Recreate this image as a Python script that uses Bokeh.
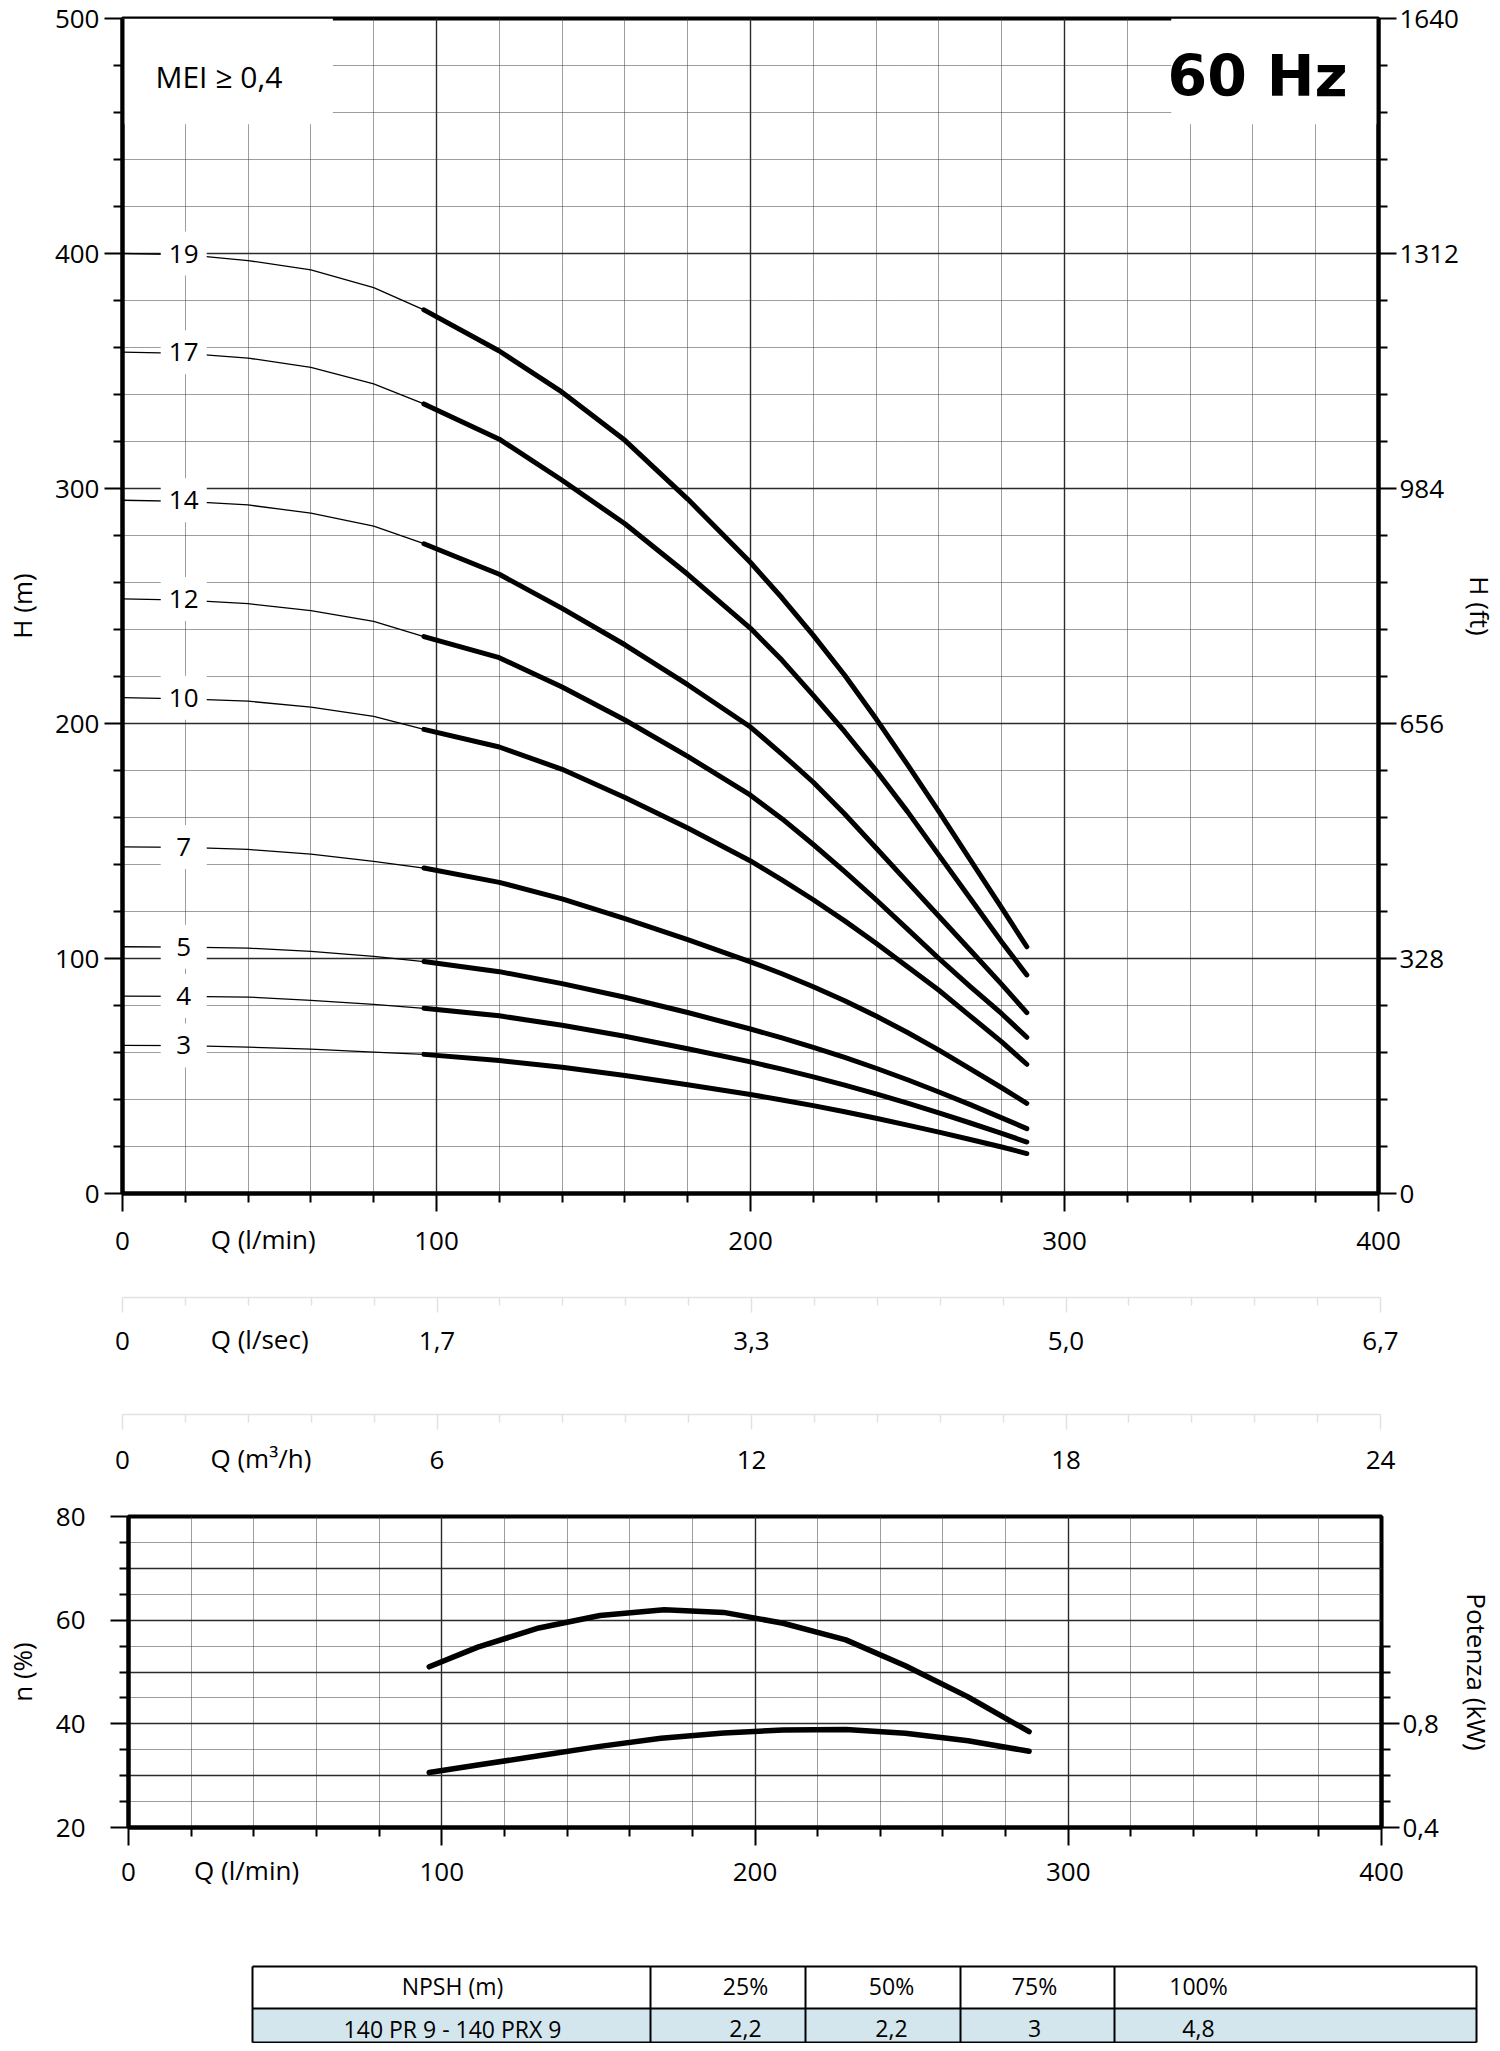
import math
from bokeh.plotting import figure
from bokeh.models import Range1d, LinearAxis, FixedTicker
from bokeh.layouts import column
from bokeh.embed import file_html
from bokeh.resources import INLINE
from bokeh.core.properties import value

FONT = "Open Sans"

# ---------------- data ----------------
Q_PTS = [0, 20, 40, 60, 80, 96, 120, 140, 160, 180, 200, 210, 220, 230, 240, 250, 260, 270, 280, 288]
N_THIN = 6  # first points drawn thin, thick curve starts at index 5

H_19 = [400, 399.5, 397, 393, 385.5, 376, 358.5, 341, 320.5, 295.5, 268.5, 253.5, 237.5, 220.5, 202, 182.5, 162.5, 142, 121.5, 105]
H_17 = [358, 357.5, 355.5, 351.5, 344.5, 336, 321, 303.5, 285, 263.5, 240.5, 227, 212, 196.5, 180, 162.5, 144, 125.5, 107, 93]
H_14 = [295, 294.5, 293, 289.5, 284, 276.5, 263.5, 249, 233.5, 216.5, 198.5, 187, 175, 161.5, 147, 132.5, 118, 103.5, 89, 77]
H_12 = [253, 252.5, 251, 248, 243.5, 237, 228, 215.5, 201.5, 186, 169.5, 159.5, 148.5, 137, 125, 112.5, 100, 88, 76.5, 66.5]
H_10 = [211, 210.5, 209.5, 207, 203, 197.5, 190, 180.5, 168.5, 155.5, 141.5, 133.5, 125, 116, 106.5, 96.5, 86.5, 75.5, 64.5, 55]
H_7 = [147.5, 147.3, 146.4, 144.4, 141.3, 138.5, 132.4, 125.4, 117, 108, 98.6, 93.5, 88, 82, 75.5, 68.5, 61, 53, 45, 38.4]
H_5 = [105, 104.8, 104.4, 103, 100.9, 98.7, 94.4, 89.3, 83.5, 77, 70, 66.2, 62.2, 57.9, 53.3, 48.4, 43.2, 37.8, 32.2, 27.6]
H_4 = [84, 83.9, 83.6, 82.2, 80.5, 78.8, 75.6, 71.6, 66.9, 61.6, 56, 52.9, 49.6, 46.1, 42.4, 38.5, 34.3, 30, 25.6, 21.9]
H_3 = [63, 62.9, 62.3, 61.4, 60.2, 59.2, 56.6, 53.7, 50.2, 46.3, 42.1, 39.8, 37.4, 34.8, 32, 29.1, 26.1, 23, 19.8, 17]

STAGES = [19, 17, 14, 12, 10, 7, 5, 4, 3]
CURVES = [H_19, H_17, H_14, H_12, H_10, H_7, H_5, H_4, H_3]
LABEL_Q = 19.5

Q_TICKS = [0, 100, 200, 300, 400]
Q_LABELS = ["0", "100", "200", "300", "400"]
H_TICKS = [0, 100, 200, 300, 400, 500]
FT_TICKS = [0, 328, 656, 984, 1312, 1640]
LSEC_LABELS = ["0", "1,7", "3,3", "5,0", "6,7"]
M3H_LABELS = ["0", "6", "12", "18", "24"]

Q_EFF = [96, 111.5, 131, 150.5, 171, 190, 209, 229, 248, 268, 287.5]
EFF = [51.0, 54.8, 58.5, 60.9, 62.0, 61.5, 59.4, 56.2, 51.2, 45.2, 38.5]
Q_POW = [96, 111.5, 131, 150.5, 170, 190, 209, 229, 248, 268, 287.5]
POW_KW = [0.612, 0.641, 0.677, 0.713, 0.744, 0.765, 0.776, 0.778, 0.764, 0.735, 0.694]

ETA_TICKS = [20, 40, 60, 80]
KW_TICKS = [0.4, 0.8]
KW_LABELS = ["0,4", "0,8"]

NPSH_HEAD = ["NPSH (m)", "25%", "50%", "75%", "100%"]
NPSH_ROW = ["140 PR 9 - 140 PRX 9", "2,2", "2,2", "3", "4,8"]

# ---------------- helpers ----------------
W = 1500
GRID_SOLID = "#2a2a2a"
GRID_DOT = "#3a3a3a"
q_minor = [v for v in range(0, 401, 20) if v % 100]
TITLE_SHIFT = -32  # pulls the inline axis title up onto the tick-label row


def no_align(p):
    try:
        p.frame_align = False
    except Exception:
        pass


def style_axis(ax, standoff=5, color="black", width=4, major_out=18, minor_out=9, tick_w=2):
    ax.axis_line_width = width
    ax.axis_line_color = color
    ax.major_tick_in = 0
    ax.major_tick_out = major_out
    ax.minor_tick_in = 0
    ax.minor_tick_out = minor_out
    ax.major_tick_line_width = tick_w
    ax.minor_tick_line_width = tick_w
    ax.major_tick_line_color = color
    ax.minor_tick_line_color = color
    ax.major_label_text_font = FONT
    ax.major_label_text_font_size = "26px"
    ax.major_label_text_color = "black"
    ax.major_label_standoff = standoff


def axis_title(ax, text, standoff):
    ax.axis_label = text
    ax.axis_label_text_font = FONT
    ax.axis_label_text_font_size = "26px"
    ax.axis_label_text_font_style = "normal"
    ax.axis_label_text_color = "black"
    ax.axis_label_standoff = standoff


def inline_title(p, q, text):
    ax = LinearAxis(ticker=FixedTicker(ticks=[q]))
    ax.axis_line_color = None
    ax.major_tick_line_color = None
    ax.minor_tick_line_color = None
    ax.major_tick_in = 0
    ax.major_tick_out = 0
    ax.minor_tick_in = 0
    ax.minor_tick_out = 0
    ax.major_label_text_font = FONT
    ax.major_label_text_font_size = "26px"
    ax.major_label_text_color = "black"
    ax.major_label_standoff = TITLE_SHIFT
    ax.major_label_overrides = {q: text}
    p.add_layout(ax, "below")
    return ax


def style_grid(g, ticker):
    g.ticker = ticker
    g.grid_line_color = GRID_SOLID
    g.grid_line_width = 1.4
    g.minor_grid_line_color = GRID_DOT
    g.minor_grid_line_width = 1
    g.minor_grid_line_dash = "1 1"


# ---------------- top chart ----------------
p1 = figure(width=W, height=1270, x_range=Range1d(0, 400), y_range=Range1d(0, 500),
            output_backend="svg", toolbar_location=None,
            min_border_left=122, min_border_right=120, min_border_top=18, min_border_bottom=77)
no_align(p1)
p1.outline_line_color = "black"
p1.outline_line_width = 4

xt1 = FixedTicker(ticks=Q_TICKS, minor_ticks=q_minor)
yt1 = FixedTicker(ticks=H_TICKS, minor_ticks=[v for v in range(0, 501, 20) if v % 100])
p1.xaxis.ticker = xt1
p1.yaxis.ticker = yt1
style_axis(p1.xaxis[0], standoff=20)
p1.xaxis[0].major_label_overrides = dict(zip(Q_TICKS, Q_LABELS))
style_axis(p1.yaxis[0], standoff=5)
axis_title(p1.yaxis[0], "H (m)", 12)
style_grid(p1.xgrid[0], xt1)
style_grid(p1.ygrid[0], yt1)
inline_title(p1, 44.8, "Q (l/min)")

p1.extra_y_ranges = {"ft": Range1d(0, 1640)}
ft_axis = LinearAxis(y_range_name="ft",
                     ticker=FixedTicker(ticks=FT_TICKS,
                                        minor_ticks=[i * 65.6 for i in range(26) if i % 5]))
style_axis(ft_axis, standoff=3)
axis_title(ft_axis, "H (ft)", 0)
p1.add_layout(ft_axis, "right")

# white boxes behind the header texts
p1.quad(left=[0, 334], right=[67, 400], bottom=[455, 455], top=[500, 500],
        fill_color="white", line_color=None)

for H in CURVES:
    p1.line(Q_PTS[:N_THIN], H[:N_THIN], line_color="black", line_width=1.3, line_join="round")

p1.rect(x=[LABEL_Q] * len(STAGES), y=[H[0] for H in CURVES], width=46, height=44,
        width_units="screen", height_units="screen", fill_color="white", line_color=None)
p1.text(x=[LABEL_Q] * len(STAGES), y=[H[0] for H in CURVES], text=[str(s) for s in STAGES],
        text_font=value(FONT), text_font_size="26px", text_align="center",
        text_baseline="middle", text_color="black")

for H in CURVES:
    p1.line(Q_PTS[N_THIN - 1:], H[N_THIN - 1:], line_color="black", line_width=5,
            line_cap="round", line_join="round")

p1.text(x=[10.5], y=[475.5], text=["MEI ≥ 0,4"], text_font=value(FONT),
        text_font_size="30px", text_align="left", text_baseline="middle", text_color="black")
p1.text(x=[361.5], y=[475.5], text=["60 Hz"], text_font=value("DejaVu Sans"), text_font_style="bold",
        text_font_size="57px", text_align="center", text_baseline="middle", text_color="black")


# ---------------- secondary flow axes ----------------
def flow_row(height, bottom, labels, title, title_q, standoff):
    p = figure(width=W, height=height, x_range=Range1d(0, 400), y_range=Range1d(0, 1),
               y_axis_type=None, output_backend="svg", toolbar_location=None,
               min_border_left=122, min_border_right=120, min_border_top=0,
               min_border_bottom=bottom)
    no_align(p)
    p.outline_line_color = None
    p.grid.visible = False
    ax = p.xaxis[0]
    ax.ticker = FixedTicker(ticks=Q_TICKS, minor_ticks=q_minor)
    style_axis(ax, standoff=standoff, color="#e2e2e2", width=1.5, major_out=15, minor_out=8,
               tick_w=1.5)
    ax.major_label_overrides = dict(zip(Q_TICKS, labels))
    inline_title(p, title_q, title)
    return p


p2 = flow_row(115, 88, LSEC_LABELS, "Q (l/sec)", 43.6, 19)
p3 = flow_row(105, 76, M3H_LABELS, "Q (m³/h)", 44.0, 21)

# ---------------- efficiency / power chart ----------------
p4 = figure(width=W, height=410, x_range=Range1d(0, 400), y_range=Range1d(20, 80),
            output_backend="svg", toolbar_location=None,
            min_border_left=128, min_border_right=119, min_border_top=26, min_border_bottom=73)
no_align(p4)
p4.outline_line_color = "black"
p4.outline_line_width = 4
xt4 = FixedTicker(ticks=Q_TICKS, minor_ticks=q_minor)
p4.xaxis.ticker = xt4
p4.yaxis.ticker = FixedTicker(ticks=ETA_TICKS, minor_ticks=[25, 30, 35, 45, 50, 55, 65, 70, 75])
style_axis(p4.xaxis[0], standoff=17)
p4.xaxis[0].major_label_overrides = dict(zip(Q_TICKS, Q_LABELS))
style_axis(p4.yaxis[0], standoff=25)
axis_title(p4.yaxis[0], "n (%)", 13)
style_grid(p4.xgrid[0], xt4)
style_grid(p4.ygrid[0], FixedTicker(ticks=[20, 30, 40, 50, 60, 70, 80],
                                    minor_ticks=[25, 35, 45, 55, 65, 75]))
inline_title(p4, 37.7, "Q (l/min)")

p4.extra_y_ranges = {"kw": Range1d(0.4, 1.6)}
kw_axis = LinearAxis(y_range_name="kw", bounds=(0.4, 1.1),
                     ticker=FixedTicker(ticks=KW_TICKS, minor_ticks=[0.5, 0.6, 0.7, 0.9, 1.0, 1.1]))
style_axis(kw_axis, standoff=3)
kw_axis.major_label_overrides = dict(zip(KW_TICKS, KW_LABELS))
axis_title(kw_axis, "Potenza (kW)", 17)
p4.add_layout(kw_axis, "right")

p4.line(Q_EFF, EFF, line_color="black", line_width=5.5, line_cap="round", line_join="round")
p4.line(Q_POW, POW_KW, y_range_name="kw", line_color="black", line_width=5.5,
        line_cap="round", line_join="round")

# ---------------- NPSH table ----------------
COL_EDGES = [252, 650, 805, 960, 1114, 1476]
ROW_EDGES = [1966, 2008, 2042]
TEXT_X = [452, 745, 891, 1034, 1198]
TEXT_Y = [1985, 2028]

p5 = figure(width=W, height=143, x_range=Range1d(0, W), y_range=Range1d(2043, 1900),
            x_axis_type=None, y_axis_type=None, output_backend="svg", toolbar_location=None,
            min_border=0)
no_align(p5)
p5.outline_line_color = None
p5.grid.visible = False
p5.quad(left=[COL_EDGES[0]], right=[COL_EDGES[-1]], top=[ROW_EDGES[1]], bottom=[ROW_EDGES[2]],
        fill_color="#d4e6ed", line_color=None)
p5.multi_line(xs=[[COL_EDGES[0], COL_EDGES[-1]] for _ in ROW_EDGES],
              ys=[[r, r] for r in ROW_EDGES], line_color="black", line_width=2)
p5.multi_line(xs=[[c, c] for c in COL_EDGES],
              ys=[[ROW_EDGES[0], ROW_EDGES[-1]] for _ in COL_EDGES], line_color="black", line_width=2)
p5.text(x=TEXT_X, y=[TEXT_Y[0]] * 5, text=NPSH_HEAD, text_font=value(FONT), text_font_size="23px",
        text_align="center", text_baseline="middle", text_color="black")
p5.text(x=TEXT_X, y=[TEXT_Y[1]] * 5, text=NPSH_ROW, text_font=value(FONT), text_font_size="23px",
        text_align="center", text_baseline="middle", text_color="black")

layout = column(p1, p2, p3, p4, p5)
open("out.html", "w").write(file_html(layout, INLINE))
